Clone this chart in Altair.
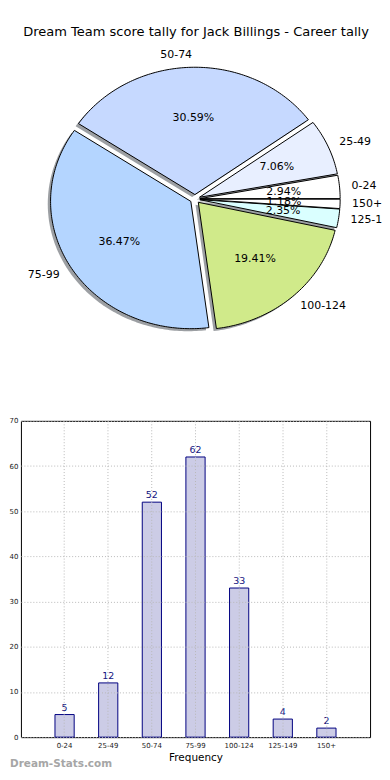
import altair as alt
import numpy as np
import pandas as pd

# ---------------- data ----------------
categories = ["0-24", "25-49", "50-74", "75-99", "100-124", "125-149", "150+"]
counts = [5, 12, 52, 62, 33, 4, 2]
pie_colors = ["#ffffff", "#e8efff", "#c6d9ff", "#b4d5ff", "#d0ea8a", "#daffff", "#ffffff"]
title_text = "Dream Team score tally for Jack Billings - Career tally"
y_ticks = [0, 10, 20, 30, 40, 50, 60, 70]
watermark = "Dream-Stats.com"

# ---------------- style / layout ----------------
EXPLODE = 0.035
LABEL_DIST = 1.1
PCT_DIST = 0.6
SHADOW = 0.02
AXIS_EXT = 11              # width kept for the bar chart's y labels
PIE_W, PIE_H = 363, 408
CX, CY = 175, 190          # pie centre inside its panel (px)
RX, RY = 141, 128          # pie radii (px) - matplotlib axes not equal aspect
BAR_W, BAR_H = 351, 318
FONT = "DejaVu Sans"

# ---------------- pie geometry (data units, radius = 1) ----------------
total = float(sum(counts))
fr = np.array(counts, dtype=float) / total
ends = np.cumsum(fr) * 2 * np.pi
starts = ends - fr * 2 * np.pi
mids = (starts + ends) / 2

rows = []
lab_rows = []
for i, cat in enumerate(categories):
    ex, ey = EXPLODE * np.cos(mids[i]), EXPLODE * np.sin(mids[i])
    n = max(3, int(np.degrees(ends[i] - starts[i])) + 2)
    ts = np.linspace(starts[i], ends[i], n)
    pts = [(ex, ey)] + [(ex + np.cos(t), ey + np.sin(t)) for t in ts] + [(ex, ey)]
    for k, (px, py) in enumerate(pts):
        rows.append(dict(slice=cat, k=k, x=px, y=py))
    xt = ex + LABEL_DIST * np.cos(mids[i])
    yt = ey + LABEL_DIST * np.sin(mids[i])
    lab_rows.append(dict(
        slice=cat, lx=xt, ly=yt, side="left" if xt > 0 else "right",
        px=ex + PCT_DIST * np.cos(mids[i]), py=ey + PCT_DIST * np.sin(mids[i]),
        pct=f"{fr[i] * 100:.2f}%"))
wedges = pd.DataFrame(rows)
labels = pd.DataFrame(lab_rows)

xs = alt.Scale(domain=[-CX / RX, (PIE_W - CX) / RX], nice=False, zero=False)
ys = alt.Scale(domain=[-(PIE_H - CY) / RY, CY / RY], nice=False, zero=False)

shadow = alt.Chart(wedges).transform_calculate(
    sx=f"datum.x - {SHADOW}", sy=f"datum.y - {SHADOW}"
).mark_line(filled=True, fill="#3a3f47", fillOpacity=0.5, strokeOpacity=0).encode(
    x=alt.X("sx:Q", scale=xs, axis=None),
    y=alt.Y("sy:Q", scale=ys, axis=None),
    detail="slice:N",
    order="k:Q",
)

pie = alt.Chart(wedges).mark_line(
    filled=True, stroke="black", strokeWidth=1, fillOpacity=1, strokeJoin="round"
).encode(
    x=alt.X("x:Q", scale=xs, axis=None),
    y=alt.Y("y:Q", scale=ys, axis=None),
    color=alt.Color("slice:N", scale=alt.Scale(domain=categories, range=pie_colors), legend=None),
    order="k:Q",
)

lab_left = alt.Chart(labels).transform_filter("datum.side == 'left'").mark_text(
    align="left", baseline="middle", fontSize=11, font=FONT, color="black", clip=True, dx=-2
).encode(x=alt.X("lx:Q", scale=xs, axis=None), y=alt.Y("ly:Q", scale=ys, axis=None), text="slice:N")

lab_right = alt.Chart(labels).transform_filter("datum.side == 'right'").mark_text(
    align="right", baseline="middle", fontSize=11, font=FONT, color="black"
).encode(x=alt.X("lx:Q", scale=xs, axis=None), y=alt.Y("ly:Q", scale=ys, axis=None), text="slice:N")

pct = alt.Chart(labels).mark_text(
    align="center", baseline="middle", fontSize=11, font=FONT, color="black"
).encode(x=alt.X("px:Q", scale=xs, axis=None), y=alt.Y("py:Q", scale=ys, axis=None), text="pct:N")

title = alt.Chart(pd.DataFrame({"t": [title_text]})).mark_text(
    align="center", baseline="middle", fontSize=13.1, font=FONT, color="black"
).encode(text="t:N", x=alt.value(CX + 1), y=alt.value(22))

pie_panel = alt.layer(shadow, pie, lab_left, lab_right, pct, title).properties(
    width=PIE_W, height=PIE_H, view=alt.ViewBackground(stroke="transparent", strokeWidth=0)
)

# ---------------- bar chart ----------------
bar_df = pd.DataFrame({"cat": categories, "count": counts})

grid_style = dict(grid=True, gridColor="#b8b8b8", gridDash=[1, 2], gridWidth=1,
                  domain=False, tickSize=0, zindex=1, labelFont=FONT, labelColor="#222222",
                  labelFontSize=7)

xb = alt.X("cat:N", sort=categories,
           scale=alt.Scale(paddingInner=0, paddingOuter=0.5),
           axis=alt.Axis(title="Frequency", labelAngle=0, labelPadding=4, bandPosition=0.5,
                         titleFont=FONT, titleFontSize=10.5, titleFontWeight="normal",
                         titleColor="black", titlePadding=4, **grid_style))
yb = alt.Y("count:Q", scale=alt.Scale(domain=[0, 70], nice=False),
           axis=alt.Axis(values=y_ticks, title=None, labelPadding=3, minExtent=AXIS_EXT,
                         maxExtent=AXIS_EXT, **grid_style))

bars = alt.Chart(bar_df).mark_bar(
    width=alt.RelativeBandSize(0.44), fill="#ccccE6", stroke="#000080", strokeWidth=1
).encode(x=xb, y=yb)

vals = alt.Chart(bar_df).mark_text(
    baseline="alphabetic", dy=-4, fontSize=9.5, font=FONT, color="#14147f"
).encode(x=xb, y=yb, text="count:Q")

wm = alt.Chart(pd.DataFrame({"t": [watermark]})).mark_text(
    align="left", baseline="middle", fontSize=10.5, fontWeight="bold", font=FONT, color="#a6a6a6"
).encode(text="t:N", x=alt.value(-AXIS_EXT), y=alt.value(BAR_H + 27))

bar_panel = alt.layer(bars, vals, wm).properties(
    width=BAR_W, height=BAR_H, view=alt.ViewBackground(stroke="black", strokeWidth=1)
)

chart = alt.vconcat(pie_panel, bar_panel, spacing=0).properties(
    padding={"left": 0, "top": 0, "right": 0, "bottom": 0}
).configure(background="white")

chart.save("out.html", embed_options={"renderer": "svg", "actions": False})
